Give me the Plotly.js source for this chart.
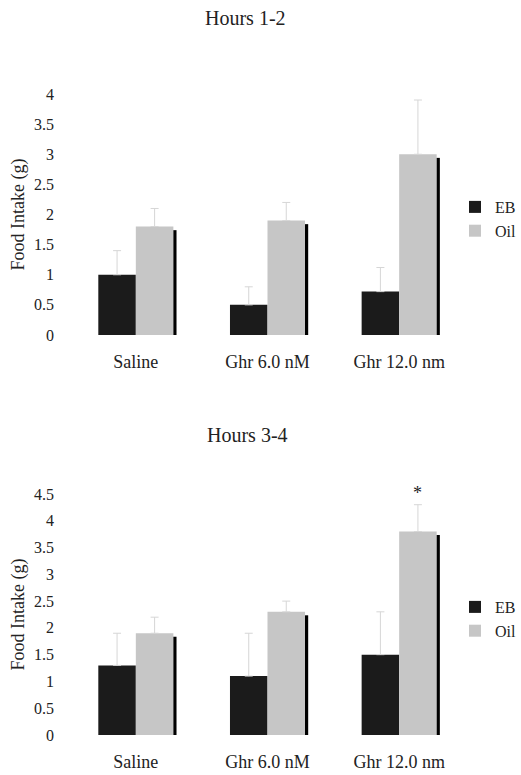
<!DOCTYPE html>
<html>
<head>
<meta charset="utf-8">
<script src="https://cdn.plot.ly/plotly-3.0.1.min.js"></script>
<style>html,body{margin:0;padding:0;background:#fff;}#chart{width:521px;height:775px;}</style>
</head>
<body>
<div id="chart"></div>
<script>
// ---- data ----
const categories = ["Saline", "Ghr 6.0 nM", "Ghr 12.0 nm"];
const seriesNames = ["EB", "Oil"];
const titles = ["Hours 1-2", "Hours 3-4"];
// Hours 1-2
const h12_EB = [1.0, 0.5, 0.72];
const h12_EB_err = [0.4, 0.3, 0.4];
const h12_Oil = [1.8, 1.9, 3.0];
const h12_Oil_err = [0.3, 0.3, 0.9];
// Hours 3-4
const h34_EB = [1.3, 1.1, 1.5];
const h34_EB_err = [0.6, 0.8, 0.8];
const h34_Oil = [1.9, 2.3, 3.8];
const h34_Oil_err = [0.3, 0.2, 0.5];
const yTop1 = 4, yTop2 = 4.5;
const significance = [{panel: 2, category: 2, series: "Oil", mark: "*"}];

// ---- style ----
const FONT = "Liberation Serif";
const TXT = "#222";
const EB_COL = "#1b1b1b", OIL_COL = "#c6c6c6", ERR_COL = "#d6d6d6";
const BW = 0.285;      // bar width (category units)
const SHW = 0.024;     // shadow strip width
const idx = categories.map((c, i) => i);

function panel(eb, ebErr, oil, oilErr, xa, ya, legendName, shadowDrop) {
  return [
    {type: "bar", name: seriesNames[0], x: idx, y: eb, xaxis: xa, yaxis: ya, legend: legendName,
     width: BW, offset: -BW, marker: {color: EB_COL},
     error_y: {type: "data", symmetric: false, array: ebErr, arrayminus: ebErr.map(() => 0),
               color: ERR_COL, thickness: 1, width: 4}},
    {type: "bar", name: seriesNames[1], x: idx, y: oil, xaxis: xa, yaxis: ya, legend: legendName,
     width: BW, offset: 0, marker: {color: OIL_COL},
     error_y: {type: "data", symmetric: false, array: oilErr, arrayminus: oilErr.map(() => 0),
               color: ERR_COL, thickness: 1, width: 4}},
    {type: "bar", name: "shadow", x: idx, y: oil.map(v => v - shadowDrop), xaxis: xa, yaxis: ya,
     width: SHW, offset: BW, marker: {color: "#000"}, showlegend: false, hoverinfo: "skip"}
  ];
}

const data = [
  ...panel(h12_EB, h12_EB_err, h12_Oil, h12_Oil_err, "x", "y", "legend", 0.06),
  ...panel(h34_EB, h34_EB_err, h34_Oil, h34_Oil_err, "x2", "y2", "legend2", 0.065)
];

const W = 521, H = 775;
const px = p => p / W;
const py = p => 1 - p / H;

function yax(range, dom) {
  return {range: [0, range], domain: dom, dtick: 0.5, tick0: 0, showgrid: false, zeroline: false,
          showline: false, ticks: "", ticklabelstandoff: 15, automargin: false,
          tickfont: {family: FONT, size: 16, color: TXT},
          title: {text: "Food Intake (g)", font: {family: FONT, size: 18, color: TXT}, standoff: 4}};
}
function xax(anchor) {
  return {anchor: anchor, domain: [px(70), px(465)], type: "linear", range: [-0.5, 2.5],
          tickmode: "array", tickvals: idx, ticktext: categories, automargin: false,
          showgrid: false, zeroline: false, showline: false, ticks: "",
          ticklabelstandoff: 14, tickfont: {family: FONT, size: 18, color: TXT}};
}

const annotations = [
  {text: titles[0], xref: "paper", yref: "paper", x: px(245), y: py(18), xanchor: "center", yanchor: "middle",
   showarrow: false, font: {family: FONT, size: 20, color: TXT}},
  {text: titles[1], xref: "paper", yref: "paper", x: px(247), y: py(435), xanchor: "center", yanchor: "middle",
   showarrow: false, font: {family: FONT, size: 20, color: TXT}}
];
significance.forEach(s => {
  const vals = s.panel === 2 ? h34_Oil : h12_Oil;
  const errs = s.panel === 2 ? h34_Oil_err : h12_Oil_err;
  annotations.push({text: s.mark, xref: s.panel === 2 ? "x2" : "x", yref: s.panel === 2 ? "y2" : "y",
    x: s.category + BW / 2, y: vals[s.category] + errs[s.category], yshift: 0,
    xanchor: "center", yanchor: "bottom", showarrow: false, font: {family: FONT, size: 18, color: TXT}});
});

const layout = {
  width: W, height: H,
  margin: {l: 0, r: 0, t: 0, b: 0, pad: 0},
  paper_bgcolor: "#fff", plot_bgcolor: "#fff",
  barmode: "overlay",
  showlegend: true,
  font: {family: FONT, color: TXT},
  xaxis: xax("y"),
  yaxis: yax(yTop1, [py(335), py(94)]),
  xaxis2: xax("y2"),
  yaxis2: yax(yTop2, [py(735), py(494)]),
  legend: {x: 1, y: py(190), xanchor: "right", yanchor: "top", bgcolor: "rgba(0,0,0,0)",
           font: {family: FONT, size: 16, color: TXT}, tracegroupgap: 0},
  legend2: {x: 1, y: py(590), xanchor: "right", yanchor: "top", bgcolor: "rgba(0,0,0,0)",
           font: {family: FONT, size: 16, color: TXT}, tracegroupgap: 0},
  annotations: annotations
};

Plotly.newPlot("chart", data, layout, {staticPlot: true, displayModeBar: false});
</script>
</body>
</html>
